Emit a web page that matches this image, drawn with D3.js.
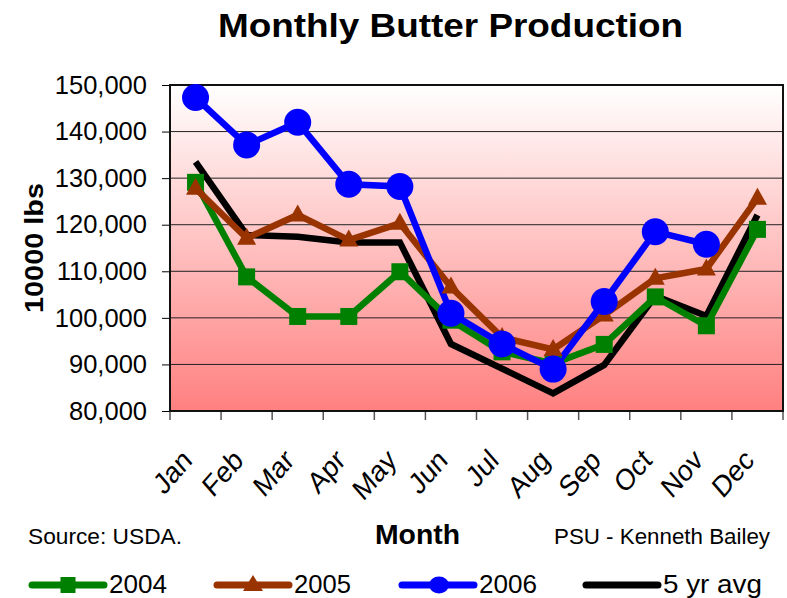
<!DOCTYPE html>
<html><head><meta charset="utf-8">
<script src="https://cdn.jsdelivr.net/npm/d3@7"></script>
<style>body{margin:0;background:#fff;} svg{display:block;font-family:"Liberation Sans",Arial,sans-serif;}</style>
</head><body>
<svg id="c" width="787" height="598"></svg>
<script>
const months = ["Jan","Feb","Mar","Apr","May","Jun","Jul","Aug","Sep","Oct","Nov","Dec"];
const y2004 = [129100,108800,100300,100300,109900,99500,92700,90200,94300,104500,98300,119000];
const y2005 = [127800,117100,122100,116700,120300,106600,95800,93200,100600,108500,110500,125700];
const y2006 = [147300,137100,142000,128700,128200,101000,94400,89000,103500,118500,115800,null];
const avg5 = [133500,117800,117400,116200,116200,94400,89100,83800,89900,104700,100400,122100];
const yTicks = [80000,90000,100000,110000,120000,130000,140000,150000];
const seriesNames = ["2004","2005","2006","5 yr avg"];

const svg = d3.select("#c");
const L=170,R=783,T=85,B=411;
const x = d3.scaleBand().domain(months).range([L,R]);
const y = d3.scaleLinear().domain([80000,150000]).range([B,T]);

const defs = svg.append("defs");
const g = defs.append("linearGradient").attr("id","bg").attr("x1",0).attr("y1",0).attr("x2",0).attr("y2",1);
g.append("stop").attr("offset","0%").attr("stop-color","#ffffff");
g.append("stop").attr("offset","100%").attr("stop-color","#ff8080");
svg.append("rect").attr("x",L).attr("y",T).attr("width",R-L).attr("height",B-T).attr("fill","url(#bg)");

// gridlines
svg.append("g").selectAll("line").data(yTicks.slice(1,-1)).join("line")
  .attr("x1",L).attr("x2",R).attr("y1",d=>y(d)).attr("y2",d=>y(d))
  .attr("stroke","#222").attr("stroke-width",1);

// y axis
const ya = svg.append("g").attr("transform",`translate(${L},0)`)
  .call(d3.axisLeft(y).tickValues(yTicks).tickFormat(d3.format(",")).tickSize(8).tickPadding(15));
ya.select(".domain").remove();
ya.selectAll("line").attr("stroke","#000");
ya.selectAll("text").attr("font-size","25.5px").attr("fill","#000").attr("font-family","'Liberation Sans', Arial, sans-serif");

// x axis ticks and labels
const xa = svg.append("g").attr("transform",`translate(0,${B})`)
  .call(d3.axisBottom(x).tickSize(0));
xa.select(".domain").remove();
xa.selectAll(".tick").remove();
svg.append("g").selectAll("line").data(months.map((m,i)=>L+i*x.bandwidth()).concat([R])).join("line")
  .attr("x1",d=>d).attr("x2",d=>d).attr("y1",B).attr("y2",B+9).attr("stroke","#555").attr("stroke-width",1.5);
svg.append("g").selectAll("text").data(months).join("text")
  .attr("transform",d=>`translate(${x(d)+x.bandwidth()/2-2},${B+51}) scale(1,1.15) rotate(-45)`)
  .attr("text-anchor","end").attr("font-size","26px").attr("fill","#000").text(d=>d);

// plot border
svg.append("rect").attr("x",L).attr("y",T).attr("width",R-L).attr("height",B-T)
  .attr("fill","none").attr("stroke","#111").attr("stroke-width",2);

const cx = d=>x(d)+x.bandwidth()/2;
function series(vals,color){
  const line = d3.line().defined(d=>d[1]!=null).x(d=>cx(d[0])).y(d=>y(d[1]));
  svg.append("path").datum(months.map((m,i)=>[m,vals[i]]))
    .attr("d",line).attr("fill","none").attr("stroke",color).attr("stroke-width",6.5).attr("stroke-linejoin","miter");
}
series(avg5,"#000000");
series(y2004,"#008000");
series(y2005,"#993300");
series(y2006,"#0000ff");

// markers
const pts = (vals)=>months.map((m,i)=>({m,v:vals[i]})).filter(d=>d.v!=null);
svg.append("g").selectAll("rect").data(pts(y2004)).join("rect")
  .attr("x",d=>cx(d.m)-8.5).attr("y",d=>y(d.v)-8.5).attr("width",17).attr("height",17).attr("fill","#008000");
const triPath = (w,h)=>`M0,${-h*0.62}L${w/2},${h*0.38}L${-w/2},${h*0.38}Z`;
svg.append("g").selectAll("path").data(pts(y2005)).join("path")
  .attr("d",triPath(19,17)).attr("transform",d=>`translate(${cx(d.m)},${y(d.v)})`).attr("fill","#993300");
svg.append("g").selectAll("circle").data(pts(y2006)).join("circle")
  .attr("cx",d=>cx(d.m)).attr("cy",d=>y(d.v)).attr("r",13.5).attr("fill","#0000ff");

// titles
svg.append("text").attr("x",218).attr("y",37).attr("textLength",465).attr("lengthAdjust","spacingAndGlyphs")
  .attr("font-size","34px").attr("font-weight","bold").text("Monthly Butter Production");
svg.append("text").attr("transform",`translate(43,248) rotate(-90)`).attr("text-anchor","middle")
  .attr("textLength",130).attr("lengthAdjust","spacingAndGlyphs")
  .attr("font-size","25px").attr("font-weight","bold").text("10000 lbs");
svg.append("text").attr("x",375).attr("y",544).attr("textLength",85).attr("lengthAdjust","spacingAndGlyphs")
  .attr("font-size","28px").attr("font-weight","bold").text("Month");
svg.append("text").attr("x",28).attr("y",544).attr("textLength",154).attr("lengthAdjust","spacingAndGlyphs")
  .attr("font-size","22px").text("Source: USDA.");
svg.append("text").attr("x",554).attr("y",544).attr("textLength",216).attr("lengthAdjust","spacingAndGlyphs")
  .attr("font-size","21.5px").text("PSU - Kenneth Bailey");

// legend
const legend = [
  {name:seriesNames[0],color:"#008000",shape:"square",x:32,tw:58},
  {name:seriesNames[1],color:"#993300",shape:"triangle",x:217,tw:57},
  {name:seriesNames[2],color:"#0000ff",shape:"circle",x:402,tw:58},
  {name:seriesNames[3],color:"#000000",shape:"none",x:586,tw:99}
];
const ly=585;
const lg = svg.append("g").selectAll("g").data(legend).join("g");
lg.append("line").attr("x1",d=>d.x).attr("x2",d=>d.x+72).attr("y1",ly).attr("y2",ly)
  .attr("stroke",d=>d.color).attr("stroke-width",7).attr("stroke-linecap","round");
lg.filter(d=>d.shape==="square").append("rect").attr("x",d=>d.x+36-7.5).attr("y",ly-8).attr("width",15).attr("height",16).attr("fill",d=>d.color);
lg.filter(d=>d.shape==="triangle").append("path").attr("d",triPath(20,16)).attr("transform",d=>`translate(${d.x+36},${ly})`).attr("fill",d=>d.color);
lg.filter(d=>d.shape==="circle").append("ellipse").attr("cx",d=>d.x+37).attr("cy",ly).attr("rx",10).attr("ry",8.5).attr("fill",d=>d.color);
lg.append("text").attr("x",d=>d.x+77).attr("y",ly+8).attr("font-size","25px")
  .attr("textLength",d=>d.tw).attr("lengthAdjust","spacingAndGlyphs").text(d=>d.name);
</script>
</body></html>
